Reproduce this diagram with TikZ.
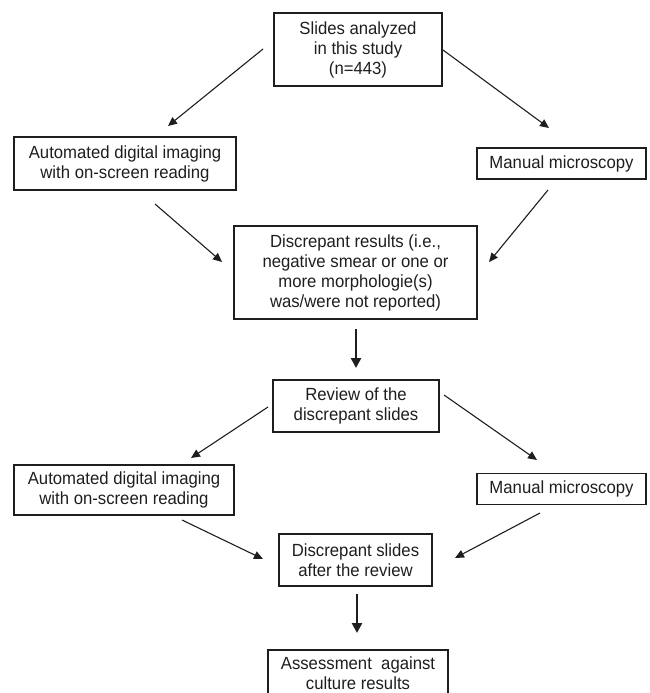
\documentclass[tikz,border=0pt]{standalone}
\usepackage{fontspec}
\setmainfont{Liberation Sans}[FakeStretch=0.95]
\usetikzlibrary{arrows.meta}
\definecolor{ink}{HTML}{1E1E1E}
\tikzset{
  box/.style={draw=ink, line width=1.2pt, text=ink, align=center, inner sep=0pt,
    font=\fontsize{17.6}{20}\selectfont},
  thin/.style={draw=ink, line width=1.1pt, -{Triangle[length=9pt,width=8pt]}},
  thick/.style={draw=ink, line width=2.6pt, -{Triangle[length=10pt,width=10pt]}},
}
\begin{document}
\begin{tikzpicture}[x=1pt,y=-1pt]
\useasboundingbox (0,0) rectangle (649,693);
\node[box, minimum width=168pt, minimum height=73pt] (T) at (358,49.5) {Slides analyzed\\in this study\\(n=443)};
\node[box, minimum width=222pt, minimum height=53pt] (A1) at (125,163.5) {Automated digital imaging\\with on-screen reading};
\node[box, minimum width=169pt, minimum height=31pt] (M1) at (561.5,163.5) {Manual microscopy};
\node[box, minimum width=243pt, minimum height=93pt] (D) at (355.5,272.5) {Discrepant results (i.e.,\\negative smear or one or\\more morphologie(s)\\was/were not reported)};
\node[box, minimum width=166pt, minimum height=52pt] (R) at (356,406) {Review of the\\discrepant slides};
\node[box, minimum width=220pt, minimum height=50pt] (A2) at (124,490) {Automated digital imaging\\with on-screen reading};
\node[box, minimum width=169pt, minimum height=31pt] (M2) at (561.5,489) {Manual microscopy};
\node[box, minimum width=153pt, minimum height=52pt] (DS) at (355.5,560) {Discrepant slides\\after the review};
\node[box, minimum width=180pt, minimum height=47pt] (AS) at (358,673.5) {Assessment\ \ against\\culture results};
% connector ends
\coordinate (t1) at (263,49);   \coordinate (a1t) at (168,126);
\coordinate (t2) at (443,50);   \coordinate (m1t) at (549,128);
\coordinate (a1b) at (155,204); \coordinate (d1) at (222,262);
\coordinate (m1b) at (548,190); \coordinate (d2) at (489,262);
\coordinate (db) at (356,329);  \coordinate (rt) at (356,368);
\coordinate (r1) at (268,407);  \coordinate (a2t) at (191,458);
\coordinate (r2) at (444,395);  \coordinate (m2t) at (537,460);
\coordinate (a2b) at (182,520); \coordinate (ds1) at (263,559);
\coordinate (m2b) at (540,513); \coordinate (ds2) at (455,558);
\coordinate (dsb) at (357,594); \coordinate (ast) at (357,633);
\draw[thin] (t1) -- (a1t);
\draw[thin] (t2) -- (m1t);
\draw[thin] (a1b) -- (d1);
\draw[thin] (m1b) -- (d2);
\draw[thick] (db) -- (rt);
\draw[thin] (r1) -- (a2t);
\draw[thin] (r2) -- (m2t);
\draw[thin] (a2b) -- (ds1);
\draw[thin] (m2b) -- (ds2);
\draw[thick] (dsb) -- (ast);
\end{tikzpicture}
\end{document}
